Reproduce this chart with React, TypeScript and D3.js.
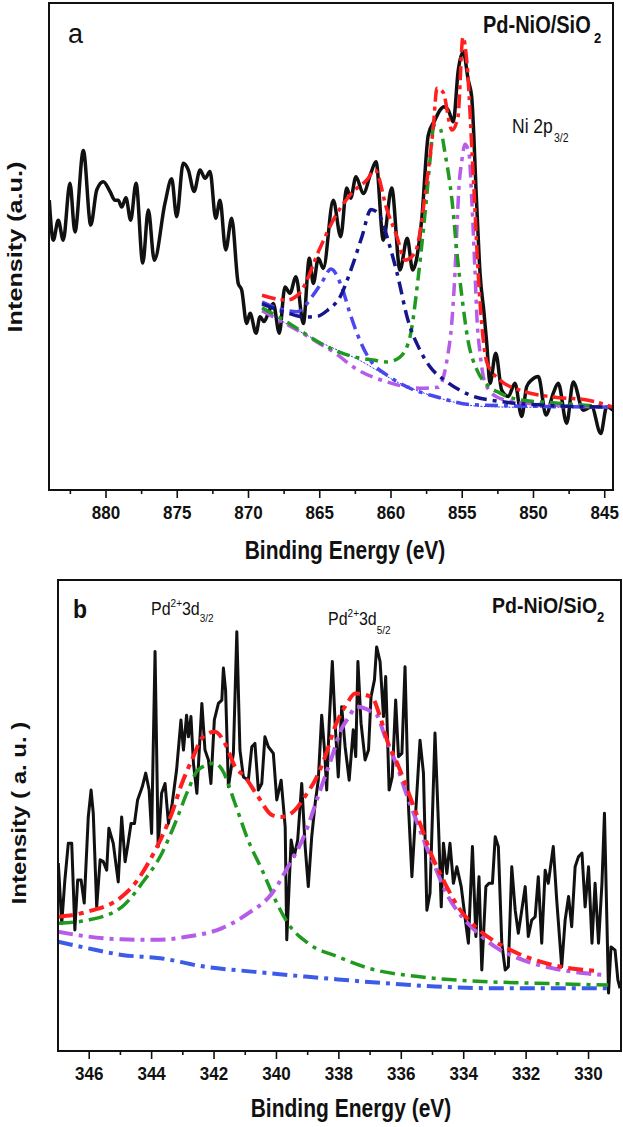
import * as d3 from 'd3';

type Pt = [number, number];

// ---- panel a: Ni 2p3/2 (binding energy eV, intensity a.u.) ----
const niRaw: Pt[] = [
  [883.98, 59.5], [883.7, 51.3], [883.35, 55.4], [883.0, 51.3], [882.53, 63.0], [882.18, 53.0],
  [881.59, 69.7], [881.07, 54.4], [880.65, 61.6], [880.19, 63.3], [879.72, 61.3], [879.37, 59.5],
  [879.14, 59.5], [878.9, 58.1], [878.6, 60.0], [878.27, 55.4], [877.89, 63.0], [877.42, 46.6],
  [877.03, 57.5], [876.61, 47.2], [875.86, 58.9], [875.39, 63.9], [875.04, 56.1], [874.58, 67.1],
  [874.22, 65.7], [873.82, 61.3], [873.4, 65.7], [873.05, 64.0], [872.7, 65.4], [872.3, 55.8],
  [872.0, 59.5], [871.6, 49.3], [871.18, 55.8], [870.72, 42.4], [870.48, 41.1], [870.13, 34.2],
  [869.89, 36.3], [869.47, 32.2], [869.19, 35.6], [868.91, 34.6], [868.61, 36.3], [868.26, 38.3],
  [867.84, 32.2], [867.44, 41.7], [867.09, 40.4], [866.67, 43.8], [866.15, 34.2], [865.73, 47.6],
  [865.45, 42.4], [865.1, 47.6], [864.75, 45.5], [864.05, 59.5], [863.53, 52.0], [863.11, 62.0],
  [862.83, 59.9], [862.46, 64.3], [861.94, 60.9], [861.42, 65.0], [861.05, 67.4], [860.54, 51.3],
  [859.95, 62.0], [859.37, 45.2], [858.86, 51.7], [858.48, 45.2], [857.85, 55.4], [857.38, 72.9],
  [856.91, 76.0], [856.56, 78.0], [856.28, 78.7], [855.98, 78.0], [855.63, 75.6], [855.28, 86.2],
  [854.93, 90.0], [854.58, 84.2], [854.34, 80.8], [853.99, 58.9], [853.75, 44.5], [853.47, 36.3],
  [853.28, 30.1], [853.05, 21.9], [852.65, 28.1], [852.23, 20.5], [851.77, 19.2], [851.3, 21.9],
  [850.83, 15.1], [850.48, 21.2], [850.13, 22.6], [849.66, 23.3], [849.12, 15.4], [848.61, 19.9],
  [848.26, 21.9], [847.67, 13.7], [847.21, 22.2], [846.51, 16.4], [845.92, 17.1], [845.28, 11.6],
  [844.86, 17.1], [844.42, 16.4],
];
const niEnvelope: Pt[] = [
  [869.05, 40.0], [867.3, 39.0], [866.39, 40.5], [864.98, 49.7], [863.93, 56.1], [862.74, 61.0],
  [861.68, 63.7], [861.12, 65.7], [860.28, 57.5], [859.58, 52.0], [859.02, 47.2], [858.32, 48.7],
  [857.47, 63.7], [857.05, 73.9], [856.77, 82.5], [856.35, 81.7], [855.72, 73.9], [855.3, 76.6],
  [854.95, 93.0], [854.67, 87.7], [854.25, 65.7], [853.75, 38.4], [853.26, 26.1], [852.35, 22.6],
  [850.95, 20.5], [848.63, 19.1], [846.25, 18.5], [844.42, 17.0],
];
const niSatHigh: Pt[] = [
  [869.05, 38.6], [867.79, 37.2], [866.6, 36.6], [865.47, 40.0], [864.84, 42.7], [864.21, 45.4],
  [863.51, 42.1], [862.88, 36.3], [862.39, 32.2], [861.47, 26.7], [860.28, 23.6], [858.67, 20.9],
  [856.77, 19.1], [854.25, 17.5], [844.42, 17.0],
];
const niSatLow: Pt[] = [
  [869.05, 38.2], [867.23, 36.3], [866.04, 35.5], [865.12, 35.7], [864.42, 37.0], [863.58, 39.6],
  [862.74, 45.8], [862.04, 52.0], [861.4, 57.6], [860.9, 56.8], [860.07, 49.9], [859.58, 44.6],
  [858.81, 34.9], [857.96, 28.7], [857.26, 25.3], [856.07, 22.2], [854.46, 19.5], [852.14, 18.1],
  [849.75, 17.5], [844.42, 17.0],
];
const niShoulder: Pt[] = [
  [869.05, 37.4], [867.3, 34.5], [866.18, 32.4], [864.98, 30.2], [863.79, 28.5], [862.53, 27.3],
  [861.26, 26.7], [860.28, 26.3], [859.37, 27.3], [858.67, 31.4], [858.11, 43.1], [857.75, 52.8],
  [857.47, 61.0], [857.26, 67.8], [856.98, 74.9], [856.56, 74.3], [856.21, 69.2], [855.72, 59.5],
  [855.37, 48.7], [855.02, 39.6], [854.6, 30.8], [853.96, 24.6], [853.26, 21.6], [852.35, 19.9],
  [850.95, 18.5], [848.63, 17.9], [844.42, 17.0],
];
const niMain: Pt[] = [
  [869.05, 36.8], [867.23, 33.9], [865.19, 30.4], [863.72, 27.7], [862.67, 25.3], [860.28, 22.2],
  [857.96, 20.9], [856.7, 21.1], [856.07, 26.7], [855.72, 34.9], [855.51, 44.6], [855.37, 54.0],
  [855.23, 62.2], [855.02, 67.8], [854.81, 71.0], [854.53, 69.2], [854.32, 58.9], [854.11, 45.2],
  [853.96, 34.9], [853.75, 28.1], [853.4, 22.0], [852.56, 19.1], [850.95, 17.9], [844.42, 17.0],
];
const niBackground: Pt[] = [
  [869.05, 37.4], [867.09, 33.7], [864.98, 30.4], [862.25, 26.7], [859.44, 22.0], [856.63, 18.9],
  [853.82, 17.2], [850.95, 17.0], [844.42, 17.0],
];
const niMajor = [880, 875, 870, 865, 860, 855, 850, 845];
const niMinor = [882.5, 877.5, 872.5, 867.5, 862.5, 857.5, 852.5, 847.5];

// ---- panel b: Pd 3d ----
const pdRaw: Pt[] = [
  [346.99, 39.9], [346.88, 27.1], [346.78, 36.3], [346.67, 44.1], [346.56, 44.1], [346.46, 25.7],
  [346.37, 36.3], [346.26, 36.3], [346.16, 31.4], [346.03, 49.7], [345.94, 55.4], [345.87, 50.5],
  [345.76, 30.6], [345.65, 40.6], [345.55, 40.2], [345.44, 38.4], [345.37, 47.3], [345.23, 44.1],
  [345.07, 35.9], [344.96, 49.7], [344.85, 40.2], [344.77, 43.4], [344.66, 48.3], [344.55, 48.3],
  [344.45, 53.3], [344.3, 56.1], [344.19, 59.0], [344.08, 55.4], [344.0, 46.2], [343.89, 84.8],
  [343.79, 43.4], [343.68, 54.7], [343.57, 56.8], [343.46, 48.3], [343.34, 52.6], [343.2, 59.7],
  [343.06, 70.3], [342.98, 63.9], [342.88, 71.3], [342.82, 66.7], [342.74, 71.0], [342.66, 61.1],
  [342.55, 54.7], [342.39, 73.8], [342.29, 63.9], [342.18, 61.8], [342.1, 56.8], [341.99, 70.3],
  [341.86, 73.8], [341.75, 74.5], [341.7, 81.3], [341.63, 76.6], [341.54, 56.1], [341.38, 63.2],
  [341.27, 89.0], [341.17, 63.9], [341.06, 58.2], [340.9, 57.5], [340.79, 64.6], [340.69, 65.3],
  [340.58, 55.4], [340.47, 56.8], [340.37, 66.7], [340.26, 64.6], [340.1, 63.2], [339.99, 53.3],
  [339.85, 57.5], [339.72, 47.6], [339.67, 23.6], [339.53, 44.8], [339.43, 41.3], [339.32, 44.8],
  [339.19, 56.8], [339.08, 43.4], [338.98, 34.9], [338.87, 45.5], [338.76, 52.6], [338.66, 57.5],
  [338.55, 71.3], [338.46, 63.9], [338.39, 55.4], [338.31, 69.6], [338.21, 82.7], [338.12, 69.6],
  [338.02, 58.2], [337.91, 73.1], [337.8, 64.6], [337.67, 57.5], [337.54, 68.2], [337.46, 62.5],
  [337.39, 82.7], [337.29, 69.6], [337.16, 61.8], [337.05, 63.9], [336.97, 75.2], [336.86, 78.8],
  [336.79, 85.8], [336.68, 82.7], [336.57, 71.0], [336.5, 79.5], [336.39, 55.4], [336.29, 58.2],
  [336.18, 74.5], [336.09, 62.5], [335.98, 63.2], [335.88, 81.6], [335.77, 51.9], [335.66, 37.0],
  [335.56, 48.3], [335.4, 66.0], [335.29, 59.0], [335.18, 29.9], [335.08, 33.5], [334.92, 67.5],
  [334.81, 48.3], [334.72, 30.6], [334.65, 44.1], [334.54, 37.7], [334.44, 44.1], [334.33, 35.6],
  [334.22, 39.1], [334.08, 34.9], [333.96, 28.5], [333.85, 22.9], [333.72, 43.4], [333.61, 24.3],
  [333.51, 37.0], [333.42, 17.2], [333.29, 34.9], [333.19, 35.6], [333.08, 35.6], [332.99, 45.5],
  [332.89, 43.4], [332.78, 22.9], [332.67, 17.2], [332.57, 17.9], [332.46, 39.1], [332.35, 29.9],
  [332.25, 25.0], [332.14, 29.9], [332.03, 34.9], [331.93, 24.3], [331.82, 27.8], [331.71, 28.5],
  [331.61, 37.0], [331.5, 22.9], [331.39, 38.4], [331.29, 35.6], [331.13, 43.4], [331.02, 32.1],
  [330.86, 17.9], [330.75, 27.8], [330.64, 32.8], [330.54, 26.4], [330.43, 39.1], [330.32, 41.3],
  [330.21, 42.0], [330.11, 30.6], [330.0, 39.1], [329.89, 22.9], [329.79, 35.6], [329.68, 22.9],
  [329.57, 35.6], [329.49, 50.5], [329.41, 27.1], [329.36, 12.3], [329.28, 22.1], [329.15, 21.4],
  [329.06, 15.1], [328.99, 13.3],
];
const pdEnvelope: Pt[] = [
  [347.0, 28.5], [346.04, 29.6], [344.95, 32.8], [344.53, 35.6], [343.99, 41.3], [343.67, 45.5],
  [343.35, 50.5], [343.03, 56.8], [342.71, 61.8], [342.35, 66.7], [341.97, 67.8], [341.65, 65.3],
  [341.33, 60.4], [341.01, 58.2], [340.59, 54.0], [340.14, 50.1], [339.82, 49.7], [339.4, 51.2],
  [339.02, 54.7], [338.76, 57.5], [338.44, 62.5], [338.12, 68.9], [337.74, 73.8], [337.48, 75.9],
  [336.94, 75.1], [336.68, 71.0], [336.42, 65.3], [336.13, 61.1], [335.72, 54.0], [335.4, 48.3],
  [335.01, 41.3], [334.6, 35.6], [334.18, 30.6], [333.63, 26.4], [332.99, 23.2], [332.26, 20.7],
  [331.17, 18.3], [329.72, 17.0],
];
const pd32: Pt[] = [
  [347.0, 27.1], [346.04, 27.8], [344.95, 30.6], [344.31, 35.6], [343.67, 42.0], [343.25, 48.3],
  [342.83, 55.4], [342.51, 59.7], [341.97, 61.1], [341.74, 59.7], [341.33, 52.6], [340.91, 44.8],
  [340.46, 38.4], [340.04, 32.1], [339.63, 27.1], [338.99, 22.9], [338.03, 20.0], [337.06, 17.6],
  [335.46, 15.8], [333.86, 14.9], [331.71, 14.4], [329.37, 14.0],
];
const pd52: Pt[] = [
  [347.0, 25.3], [346.04, 24.3], [344.95, 23.7], [343.89, 23.6], [342.83, 24.3], [341.74, 26.1],
  [340.91, 29.2], [340.14, 33.5], [339.63, 39.1], [339.08, 46.2], [338.67, 54.0], [338.22, 62.5],
  [337.93, 68.2], [337.71, 70.6], [337.42, 73.1], [336.94, 72.0], [336.78, 71.3], [336.52, 66.7],
  [336.13, 60.4], [335.88, 55.4], [335.56, 49.7], [335.24, 44.1], [334.92, 39.1], [334.5, 32.8],
  [333.96, 27.8], [333.54, 25.0], [332.99, 22.1], [332.26, 19.7], [331.17, 17.6], [330.11, 16.5],
  [329.47, 16.1],
];
const pdBackground: Pt[] = [
  [347.0, 23.2], [346.04, 21.8], [344.95, 20.4], [343.73, 19.7], [342.29, 17.9], [340.69, 16.8],
  [339.08, 15.8], [338.03, 15.2], [336.52, 14.4], [334.92, 13.7], [332.77, 13.3], [330.65, 13.3],
  [329.37, 13.3],
];
const pdMajor = [346, 344, 342, 340, 338, 336, 334, 332, 330];
const pdMinor = [345, 343, 341, 339, 337, 335, 333, 331];

const FONT = '"Liberation Sans", Arial, Helvetica, sans-serif';
const RED = '#ff1f1f';
const GREEN = '#1f9a1f';
const VIOLET = '#b65ce8';
const ROYAL = '#4848ee';
const NAVY = '#16168c';
const BLUE_B = '#3c5ce8';

interface Fit {
  data: Pt[];
  color: string;
  width: number;
  dash: string;
}

interface PanelProps {
  id: string;
  x: d3.ScaleLinear<number, number>;
  y: d3.ScaleLinear<number, number>;
  raw: Pt[];
  rawCurve: d3.CurveFactory;
  rawWidth: number;
  fits: Fit[];
  major: number[];
  minor: number[];
  labelY: number;
}

const Panel = ({ id, x, y, raw, rawCurve, rawWidth, fits, major, minor, labelY }: PanelProps) => {
  const [x0, x1] = x.range();
  const [y0, y1] = y.range();
  const line = (curve: d3.CurveFactory) =>
    d3
      .line<Pt>()
      .x((d) => x(d[0]))
      .y((d) => y(d[1]))
      .curve(curve);
  return (
    <g>
      <defs>
        <clipPath id={id}>
          <rect x={x0} y={y1} width={x1 - x0} height={y0 - y1} />
        </clipPath>
      </defs>
      <g clipPath={`url(#${id})`}>
        <path d={line(rawCurve)(raw) ?? ''} fill="none" stroke="#111" strokeWidth={rawWidth} strokeLinejoin="round" />
        {fits.map((f, i) => (
          <path
            key={i}
            d={line(d3.curveMonotoneX)(f.data) ?? ''}
            fill="none"
            stroke={f.color}
            strokeWidth={f.width}
            strokeDasharray={f.dash}
          />
        ))}
      </g>
      <rect x={x0} y={y1} width={x1 - x0} height={y0 - y1} fill="none" stroke="#111" strokeWidth={2} />
      {major.map((t) => (
        <g key={`M${t}`}>
          <line x1={x(t)} x2={x(t)} y1={y0} y2={y0 + 8} stroke="#111" strokeWidth={1.6} />
          <text
            transform={`translate(${x(t)},${labelY}) scale(1,1.05)`}
            textAnchor="middle"
            fontFamily={FONT}
            fontWeight="bold"
            fontSize={17}
            fill="#111"
          >
            {t}
          </text>
        </g>
      ))}
      {minor.map((t) => (
        <line key={`m${t}`} x1={x(t)} x2={x(t)} y1={y0} y2={y0 + 4} stroke="#111" strokeWidth={1.6} />
      ))}
    </g>
  );
};

const Txt = ({
  x,
  y,
  size,
  bold = false,
  sy = 1,
  anchor = 'start',
  children,
}: {
  x: number;
  y: number;
  size: number;
  bold?: boolean;
  sy?: number;
  anchor?: string;
  children: any;
}) => (
  <text
    transform={`translate(${x},${y}) scale(1,${sy})`}
    fontFamily={FONT}
    fontSize={size}
    fontWeight={bold ? 'bold' : 'normal'}
    textAnchor={anchor}
    fill="#111"
  >
    {children}
  </text>
);

const App = () => {
  const niX = d3.scaleLinear().domain([884, 844.42]).range([49, 613]);
  const niY = d3.scaleLinear().domain([0, 100]).range([490, 3]);
  const pdX = d3.scaleLinear().domain([347, 328.96]).range([58, 621]);
  const pdY = d3.scaleLinear().domain([0, 100]).range([1051, 580]);

  const dashA = '13,6,4,6';
  const dashB = '15,6,4,6';

  const niFits: Fit[] = [
    { data: niBackground, color: '#3030ff', width: 1, dash: '2,1.5' },
    { data: niMain, color: VIOLET, width: 3.5, dash: dashA },
    { data: niShoulder, color: GREEN, width: 3.5, dash: dashA },
    { data: niSatHigh, color: ROYAL, width: 3.5, dash: dashA },
    { data: niSatLow, color: NAVY, width: 3.5, dash: dashA },
    { data: niEnvelope, color: RED, width: 3.5, dash: '14,5,4,5' },
  ];
  const pdFits: Fit[] = [
    { data: pdBackground, color: BLUE_B, width: 4, dash: dashB },
    { data: pd32, color: GREEN, width: 3.5, dash: dashB },
    { data: pd52, color: VIOLET, width: 4, dash: dashB },
    { data: pdEnvelope, color: RED, width: 4, dash: '15,6,5,6' },
  ];

  return (
    <svg
      width={623}
      height={1127}
      viewBox="0 0 623 1127"
      style={{ position: 'absolute', left: 0, top: 0, background: '#fff' }}
    >
      <rect width={623} height={1127} fill="#fff" />
      <Panel
        id="clipA"
        x={niX}
        y={niY}
        raw={niRaw}
        rawCurve={d3.curveMonotoneX}
        rawWidth={3.5}
        fits={niFits}
        major={niMajor}
        minor={niMinor}
        labelY={519}
      />
      <Panel
        id="clipB"
        x={pdX}
        y={pdY}
        raw={pdRaw}
        rawCurve={d3.curveLinear}
        rawWidth={3}
        fits={pdFits}
        major={pdMajor}
        minor={pdMinor}
        labelY={1080}
      />

      {/* panel a texts */}
      <Txt x={68} y={43} size={27}>a</Txt>
      <Txt x={483} y={33} size={20} bold sy={1.17}>Pd-NiO/SiO</Txt>
      <Txt x={594} y={43} size={13} bold sy={1.1}>2</Txt>
      <Txt x={512} y={133} size={17.5} sy={1.2}>Ni 2p</Txt>
      <Txt x={554} y={142} size={10.5} sy={1.15}>3/2</Txt>
      <Txt x={345} y={559} size={21} bold sy={1.2} anchor="middle">Binding Energy (eV)</Txt>
      <text
        transform="translate(22,247) rotate(-90) scale(1.2,1)"
        fontFamily={FONT}
        fontSize={21}
        fontWeight="bold"
        textAnchor="middle"
        fill="#111"
      >
        Intensity (a.u.)
      </text>

      {/* panel b texts */}
      <Txt x={73} y={618} size={23} bold sy={1.1}>b</Txt>
      <Txt x={151} y={615} size={16} sy={1.15}>
        Pd
        <tspan fontSize={10} dy={-7}>2+</tspan>
        <tspan fontSize={16} dy={7}>3d</tspan>
        <tspan fontSize={10} dy={6}>3/2</tspan>
      </Txt>
      <Txt x={328} y={625} size={16} sy={1.15}>
        Pd
        <tspan fontSize={10} dy={-7}>2+</tspan>
        <tspan fontSize={16} dy={7}>3d</tspan>
        <tspan fontSize={10} dy={8}>5/2</tspan>
      </Txt>
      <Txt x={492} y={613} size={19.5} bold sy={1.17}>Pd-NiO/SiO</Txt>
      <Txt x={597} y={622} size={13} bold sy={1.1}>2</Txt>
      <Txt x={351} y={1117} size={21} bold sy={1.2} anchor="middle">Binding Energy (eV)</Txt>
      <text
        transform="translate(26,813) rotate(-90) scale(1.2,1)"
        fontFamily={FONT}
        fontSize={20}
        fontWeight="bold"
        textAnchor="middle"
        fill="#111"
      >
        Intensity ( a. u. )
      </text>
    </svg>
  );
};

export default App;
